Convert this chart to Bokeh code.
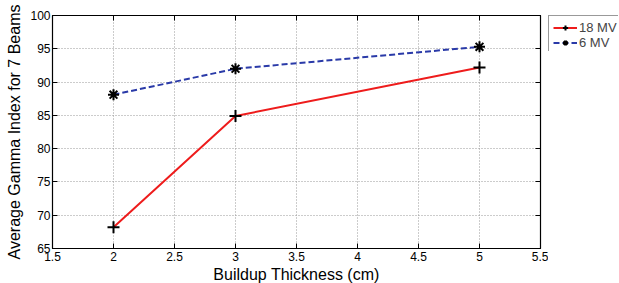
from bokeh.plotting import figure
from bokeh.layouts import row
from bokeh.models import Legend, LegendItem, LinearAxis, FixedTicker, Range1d
from bokeh.embed import file_html
from bokeh.resources import INLINE

thickness = [2, 3, 5]
mv18 = [68.2, 84.9, 92.2]
mv6 = [88.1, 92.0, 95.3]
x_ticks = [1.5, 2, 2.5, 3, 3.5, 4, 4.5, 5, 5.5]
y_ticks = [65, 70, 75, 80, 85, 90, 95, 100]

FONT = "Liberation Sans"
RED = "#ee1c1c"
BLUE = "#2a3aa8"

p = figure(frame_width=488, frame_height=233, output_backend="svg", toolbar_location=None,
           x_range=Range1d(1.5, 5.5), y_range=Range1d(65, 100),
           min_border_left=52, min_border_top=15, min_border_bottom=35, min_border_right=8)
p.background_fill_color = "white"
p.outline_line_color = "black"
p.outline_line_width = 1.2

for ax in [p.xaxis[0], p.yaxis[0]]:
    ax.major_tick_in = 5
    ax.major_tick_out = 0
    ax.minor_tick_line_color = None
    ax.major_label_text_font = FONT
    ax.major_label_text_font_size = "12px"
    ax.major_label_text_color = "black"
    ax.axis_label_text_font = FONT
    ax.axis_label_text_font_size = "16px"
    ax.axis_label_text_font_style = "normal"
    ax.axis_label_text_color = "black"
    ax.axis_line_color = "black"
    ax.major_tick_line_color = "black"
p.xaxis.ticker = FixedTicker(ticks=x_ticks)
p.yaxis.ticker = FixedTicker(ticks=y_ticks)
p.xaxis.axis_label = "Buildup Thickness (cm)"
p.yaxis.axis_label = "Average Gamma Index for 7 Beams"
p.xaxis.major_label_standoff = 3
p.yaxis.major_label_standoff = 2
p.xaxis.axis_label_standoff = 2
p.yaxis.axis_label_standoff = 4

p.xgrid.ticker = FixedTicker(ticks=x_ticks)
p.ygrid.ticker = FixedTicker(ticks=y_ticks)
for g in [p.xgrid[0], p.ygrid[0]]:
    g.grid_line_color = "#999999"
    g.grid_line_dash = "1 2"
    g.grid_line_width = 1

top_axis = LinearAxis(ticker=FixedTicker(ticks=x_ticks),
                      major_label_overrides={t: "" for t in x_ticks},
                      major_tick_in=5, major_tick_out=0, minor_tick_line_color=None,
                      axis_line_color="black", major_label_standoff=0)
right_axis = LinearAxis(ticker=FixedTicker(ticks=y_ticks),
                        major_label_overrides={t: "" for t in y_ticks},
                        major_tick_in=5, major_tick_out=0, minor_tick_line_color=None,
                        axis_line_color="black", major_label_standoff=0)
p.add_layout(top_axis, "above")
p.add_layout(right_axis, "right")

p.line(thickness, mv18, line_color=RED, line_width=2)
p.scatter(thickness, mv18, marker="cross", size=12, line_color="black", line_width=2)
p.line(thickness, mv6, line_color=BLUE, line_width=2, line_dash="6 3")
p.scatter(thickness, mv6, marker="asterisk", size=11, line_color="black", line_width=2)

# Legend panel (separate small figure so the legend sits outside the axes box)
q = figure(frame_width=70, frame_height=36, output_backend="svg", toolbar_location=None,
           x_range=Range1d(100, 101), y_range=Range1d(100, 101),
           x_axis_location=None, y_axis_location=None,
           min_border_left=0, min_border_right=0, min_border_top=15, min_border_bottom=0)
q.outline_line_color = None
q.xgrid.visible = False
q.ygrid.visible = False
ql18 = q.line(thickness, mv18, line_color=RED, line_width=2)
qs18 = q.scatter(thickness, mv18, marker="cross", size=12, line_color="black", line_width=2)
ql6 = q.line(thickness, mv6, line_color=BLUE, line_width=2, line_dash="6 3")
qs6 = q.scatter(thickness, mv6, marker="asterisk", size=11, line_color="black", line_width=2)

legend = Legend(items=[LegendItem(label="18 MV", renderers=[ql18, qs18]),
                       LegendItem(label="6 MV", renderers=[ql6, qs6])],
                label_text_font=FONT, label_text_font_size="13px",
                border_line_color="#333333", border_line_width=1,
                glyph_width=24, glyph_height=13, label_standoff=2,
                padding=4, spacing=0, margin=0, location="top_left",
                label_height=13)
q.add_layout(legend, "center")

layout = row(p, q)
open("out.html", "w").write(file_html(layout, INLINE))
